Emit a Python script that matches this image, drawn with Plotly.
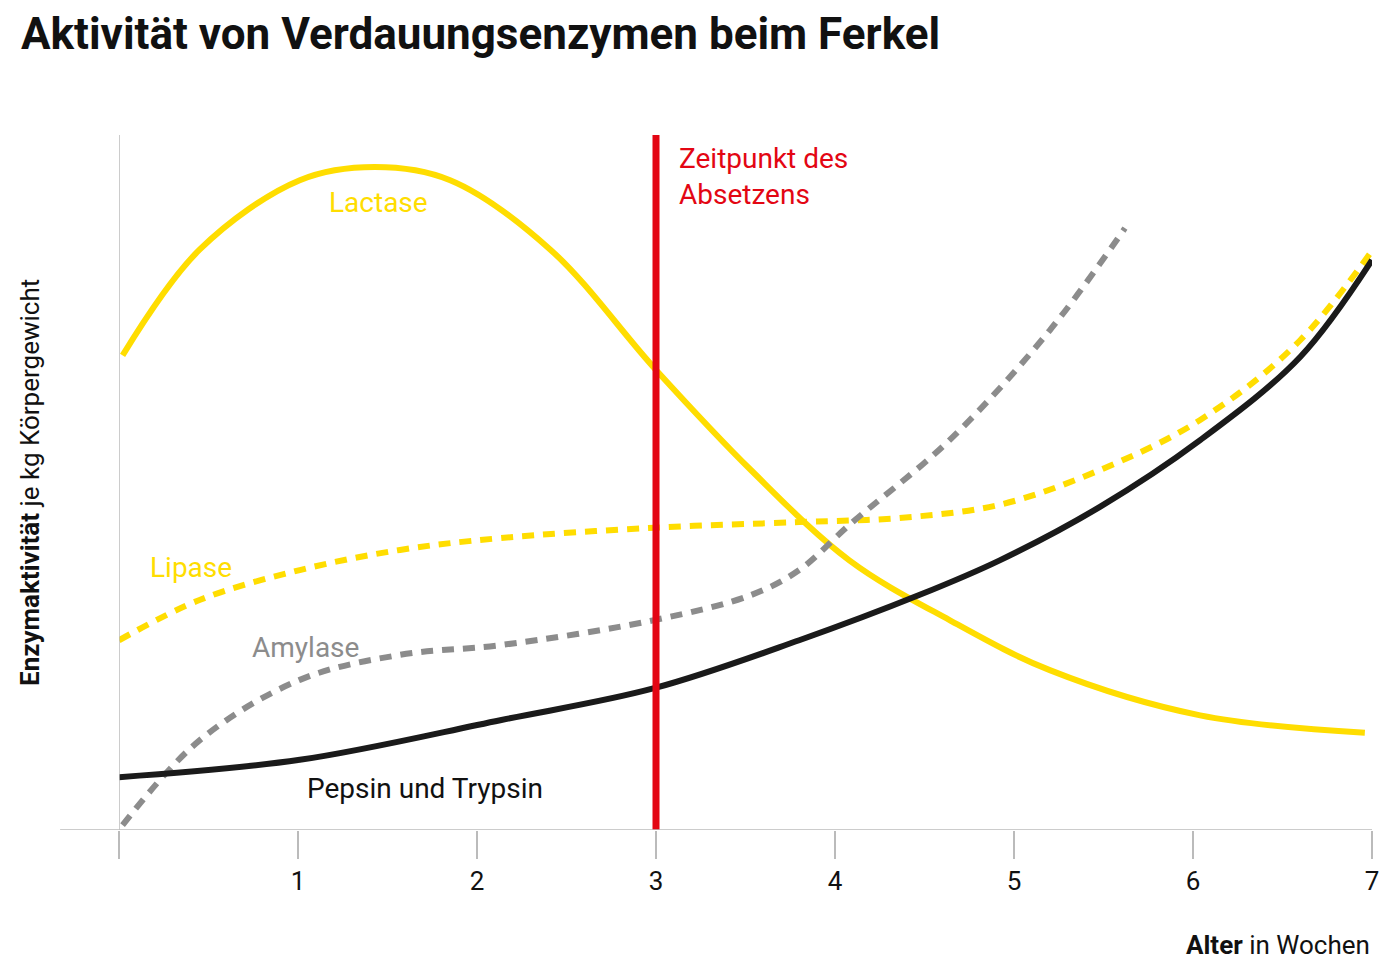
import plotly.graph_objects as go

# Alter in Wochen / Aktivität (relative Einheiten 0..100)
lactase_x = [0.02, 0.45, 1.01, 1.43, 1.85, 2.41, 3.0, 3.53, 4.08, 4.64, 5.2, 6.04, 6.96]
lactase_y = [68.3, 83.5, 93.5, 95.4, 93.5, 83.5, 66.2, 51.8, 38.8, 30.2, 23.0, 16.5, 14.0]

lipase_x = [0.0, 0.45, 1.01, 1.57, 2.13, 2.99, 3.8, 4.36, 4.92, 5.48, 6.04, 6.6, 7.16]
lipase_y = [27.3, 33.1, 37.4, 40.3, 42.0, 43.5, 44.3, 44.9, 46.8, 51.8, 59.0, 70.5, 89.2]

amylase_x = [0.02, 0.45, 1.01, 1.57, 2.13, 2.99, 3.53, 3.8, 4.08, 4.64, 5.2, 5.62]
amylase_y = [0.7, 12.9, 21.6, 25.2, 26.6, 30.2, 33.8, 37.4, 43.9, 56.1, 71.9, 86.6]

pepsin_x = [0.0, 1.01, 2.13, 2.99, 3.8, 4.47, 4.92, 5.48, 6.04, 6.6, 7.0]
pepsin_y = [7.6, 10.1, 15.8, 20.4, 27.3, 33.8, 38.8, 46.5, 56.1, 68.1, 82.0]

absetzen_woche = 3
ticks = [0, 1, 2, 3, 4, 5, 6, 7]
tick_text = ["", "1", "2", "3", "4", "5", "6", "7"]

YELLOW = "#FFDD00"
GRAY = "#8C8C8C"
FONT = "Liberation Sans Narrow, Roboto, Arial Narrow, sans-serif"
DASH = "12px,9px"

fig = go.Figure()
fig.add_trace(go.Scatter(x=lactase_x, y=lactase_y, mode="lines",
                         line=dict(color=YELLOW, width=6, shape="spline")))
fig.add_trace(go.Scatter(x=lipase_x, y=lipase_y, mode="lines",
                         line=dict(color=YELLOW, width=6, shape="spline", dash=DASH)))
fig.add_trace(go.Scatter(x=amylase_x, y=amylase_y, mode="lines",
                         line=dict(color=GRAY, width=6, shape="spline", dash=DASH)))
fig.add_trace(go.Scatter(x=pepsin_x, y=pepsin_y, mode="lines",
                         line=dict(color="#1a1a1a", width=6, shape="spline")))
fig.add_trace(go.Scatter(x=[absetzen_woche, absetzen_woche], y=[0, 100], mode="lines",
                         line=dict(color="#E30613", width=7)))

# Achsenlinie unten (beginnt links vor der y-Achse)
fig.add_shape(type="line", xref="paper", yref="y", x0=-0.047, x1=1, y0=0, y1=0,
              line=dict(color="#BBBBBB", width=1.5))
fig.add_shape(type="line", xref="x", yref="y", x0=0, x1=0, y0=0, y1=100,
              line=dict(color="#BBBBBB", width=1.5))

def label(txt, x, y, color, size=28, xanchor="center"):
    fig.add_annotation(x=x, y=y, text=txt, showarrow=False, xanchor=xanchor, align="left",
                       font=dict(family=FONT, size=size, color=color))

label("Lactase", 1.45, 90.3, YELLOW)
label("Lipase", 0.4, 37.8, YELLOW)
label("Amylase", 1.04, 26.3, GRAY)
label("Pepsin und Trypsin", 1.71, 6.0, "#111111")
label("Zeitpunkt des<br>Absetzens", 3.12, 94.0, "#E30613", xanchor="left")

fig.add_annotation(xref="paper", yref="paper", x=-0.085, y=0.5, text="<b>Enzymaktivität</b> je kg Körpergewicht",
                   textangle=-90, showarrow=False, font=dict(family=FONT, size=26, color="#111111"))
fig.add_annotation(xref="paper", yref="paper", x=1.0, y=-0.19, xanchor="right",
                   text="<b>Alter</b> in Wochen", showarrow=False,
                   font=dict(family=FONT, size=26, color="#111111"))
fig.add_annotation(xref="paper", yref="paper", x=-0.08, y=1.145, xanchor="left", yanchor="middle",
                   text="<b>Aktivität von Verdauungsenzymen beim Ferkel</b>", showarrow=False,
                   font=dict(family=FONT, size=44, color="#111111"))

fig.update_layout(
    width=1400, height=975, showlegend=False,
    plot_bgcolor="white", paper_bgcolor="white",
    margin=dict(l=111, r=36, t=127, b=153),
    xaxis=dict(range=[0, 7], tickvals=ticks, ticktext=tick_text, ticks="outside",
               ticklen=28, tickcolor="#BBBBBB", tickwidth=1.5, showgrid=False,
               zeroline=False, showline=False,
               tickfont=dict(family=FONT, size=26, color="#111111")),
    yaxis=dict(range=[0, 100], showticklabels=False, showgrid=False, zeroline=False,
               showline=False),
)

fig.write_html("out.html")
